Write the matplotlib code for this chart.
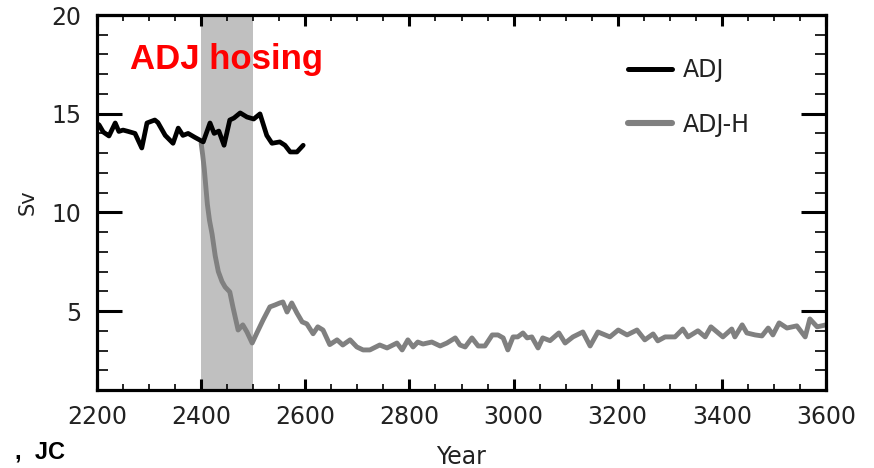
import matplotlib
matplotlib.use("Agg")
import matplotlib.pyplot as plt
from matplotlib.ticker import MultipleLocator

# ---- data ----
adj_years = [2200, 2204, 2212, 2223, 2235, 2242, 2250, 2260, 2273, 2286, 2296,
             2311, 2317, 2331, 2346, 2356, 2365, 2375, 2388, 2404, 2417, 2425,
             2434, 2444, 2455, 2463, 2475, 2488, 2501, 2513, 2526, 2536, 2551,
             2561, 2571, 2584, 2596]
adj_sv = [14.5, 14.43, 14.07, 13.87, 14.53, 14.1, 14.17, 14.1, 14.0, 13.26, 14.53,
          14.68, 14.55, 13.9, 13.5, 14.27, 13.9, 14.0, 13.8, 13.57, 14.53, 14.0,
          14.12, 13.4, 14.68, 14.78, 15.04, 14.83, 14.73, 14.99, 13.9, 13.5, 13.57,
          13.4, 13.06, 13.06, 13.4]

adjh_years = [2400, 2403, 2406, 2409, 2412, 2416, 2421, 2427, 2433, 2440, 2446,
              2455, 2461, 2471,
              2480, 2488, 2498, 2507, 2519, 2532, 2542, 2551, 2557, 2565, 2574,
              2584, 2594, 2603, 2615, 2624, 2634, 2647, 2661, 2672, 2686, 2699,
              2711, 2724, 2743, 2757, 2776, 2786, 2797, 2807, 2816, 2826, 2843,
              2859, 2872, 2888, 2897, 2907, 2920, 2932, 2945, 2959, 2970, 2980,
              2989, 2999, 3008, 3018, 3026, 3035, 3047, 3056, 3070, 3087, 3099,
              3114, 3133, 3147, 3162, 3185, 3201, 3218, 3237, 3252, 3268, 3277,
              3291, 3310, 3325, 3335, 3354, 3368, 3379, 3402, 3419, 3425, 3439,
              3448, 3464, 3477, 3489, 3498, 3510, 3525, 3544, 3560, 3569, 3583,
              3600]
adjh_sv = [13.5, 12.9, 12.2, 11.3, 10.4, 9.6, 8.9, 7.8, 7.0, 6.5, 6.22,
           5.97, 5.21, 4.04,
           4.3, 3.94, 3.38, 3.89, 4.55, 5.21, 5.31, 5.41, 5.46, 4.95, 5.41,
           4.9, 4.45, 4.35, 3.85, 4.2, 4.04, 3.3, 3.54, 3.28, 3.54, 3.18,
           3.03, 3.03, 3.28, 3.13, 3.38, 3.03, 3.54, 3.18, 3.43, 3.33, 3.43,
           3.23, 3.38, 3.64, 3.28, 3.18, 3.64, 3.23, 3.23, 3.79, 3.79, 3.64,
           3.03, 3.69, 3.69, 3.89, 3.64, 3.69, 3.13, 3.64, 3.5, 3.89, 3.38,
           3.69, 3.94, 3.23, 3.94, 3.69, 4.04, 3.79, 4.04, 3.54, 3.84, 3.49,
           3.69, 3.69, 4.09, 3.69, 4.0, 3.69, 4.2, 3.69, 4.09, 3.69, 4.3,
           3.89, 3.79, 3.74, 4.14, 3.79, 4.4, 4.14, 4.25, 3.69, 4.6, 4.2,
           4.3]

hosing_span = (2400, 2500)
x_ticks = [2200, 2400, 2600, 2800, 3000, 3200, 3400, 3600]
y_ticks = [5, 10, 15, 20]

# ---- figure ----
W, H = 874, 468
fig = plt.figure(figsize=(W / 100, H / 100), dpi=100)
ax = fig.add_axes([97 / W, 1 - 390 / H, 729 / W, 375 / H])

ax.axvspan(*hosing_span, color="#c0c0c0", lw=0, zorder=0)
ax.plot(adjh_years, adjh_sv, color="#808080", lw=3.5, label="ADJ-H", zorder=2,
        solid_joinstyle="round", solid_capstyle="round")
ax.plot(adj_years, adj_sv, color="black", lw=3.4, label="ADJ", zorder=3,
        solid_joinstyle="round", solid_capstyle="round")

ax.set_xlim(2200, 3600)
ax.set_ylim(1, 20)
ax.set_xticks(x_ticks)
ax.set_yticks(y_ticks)
ax.xaxis.set_minor_locator(MultipleLocator(50))
ax.yaxis.set_minor_locator(MultipleLocator(1))

for s in ax.spines.values():
    s.set_linewidth(2.3)

lab_col = "#222222"
ax.tick_params(axis="both", which="both", direction="in", top=True, right=True,
               labelsize=17, labelcolor=lab_col)
ax.tick_params(axis="y", which="major", length=18, width=2.2, pad=11)
ax.tick_params(axis="y", which="minor", length=8, width=1.2)
ax.tick_params(axis="x", which="major", length=8, width=2.2, pad=11)
ax.tick_params(axis="x", which="minor", length=4.5, width=1.2)

ax.set_xlabel("Year", fontsize=17, color=lab_col, labelpad=11)
ax.set_ylabel("Sv", fontsize=15, color=lab_col, labelpad=10)

fig.text(130 / W, 1 - 60 / H, "ADJ hosing", color="#ff0000", fontsize=25,
         fontweight="bold", family="Liberation Sans", va="center", ha="left",
         zorder=5)

handles, labels = ax.get_legend_handles_labels()
order = [1, 0]
leg = ax.legend([handles[i] for i in order], [labels[i] for i in order],
                loc="upper left", bbox_to_anchor=(628 / W, 1 - 58 / H),
                bbox_transform=fig.transFigure, frameon=False, fontsize=17,
                handlelength=1.87, handletextpad=0.45, labelspacing=1.3,
                borderpad=0, borderaxespad=0)
for t in leg.get_texts():
    t.set_color(lab_col)
leg.get_lines()[0].set_linewidth(3.6)
leg.get_lines()[1].set_linewidth(4.4)

fig.text(65 / W, 1 - 452 / H, ",  JC", fontsize=17, fontweight="bold",
         family="Liberation Sans", ha="right", va="center", color="black")

fig.savefig("out.png", dpi=100)
